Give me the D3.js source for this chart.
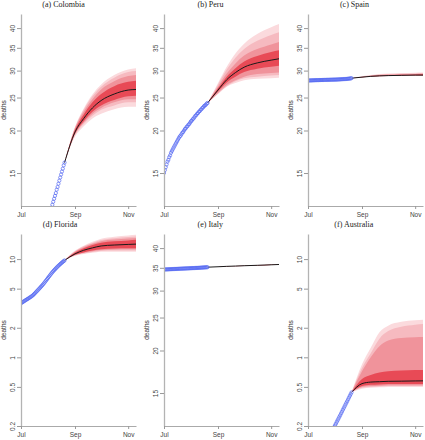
<!DOCTYPE html>
<html><head><meta charset="utf-8">
<script src="https://cdn.jsdelivr.net/npm/d3@7"></script>
<style>body{margin:0;background:#fff}</style>
</head><body>
<script>
// ---------- DATA ----------
const xTickDates = ["2020-07-01", "2020-09-01", "2020-11-01"];
const xDomain = ["2020-07-01", "2020-11-10"];
const topTicks = [15, 20, 25, 30, 35, 40];
const botTicks = [0.2, 0.5, 1, 2, 5, 10];
const fcDates = ["2020-08-20", "2020-09-01", "2020-09-11", "2020-09-21", "2020-10-01", "2020-10-16", "2020-11-01", "2020-11-10"];

// (a) Colombia
const colombiaObsStart = "2020-08-04";
const colombiaObs = [11.6, 11.85, 12.1, 12.35, 12.6, 12.85, 13.1, 13.4, 13.65, 13.95, 14.25, 14.55, 14.85, 15.15, 15.45, 15.8, 16.1];
const colombiaMed = [16.1, 19.8, 21.7, 23.3, 24.5, 25.6, 26.3, 26.4];
const colombiaHi = [
  [16.1, 20.5, 23.2, 25.5, 27.3, 29.1, 30.2, 30.5],
  [16.1, 20.4, 23.0, 25.2, 26.9, 28.6, 29.7, 29.9],
  [16.1, 20.3, 22.7, 24.7, 26.4, 27.9, 28.9, 29.1],
  [16.1, 20.1, 22.3, 24.2, 25.6, 27.0, 27.8, 28.0]];
const colombiaLo = [
  [16.1, 19.2, 20.6, 21.7, 22.4, 23.1, 23.5, 23.5],
  [16.1, 19.4, 20.9, 22.1, 23.0, 23.7, 24.2, 24.2],
  [16.1, 19.5, 21.1, 22.4, 23.3, 24.2, 24.7, 24.7],
  [16.1, 19.6, 21.3, 22.7, 23.7, 24.6, 25.2, 25.3]];

// (b) Peru
const peruObsStart = "2020-07-01";
const peruObs = [15.0, 15.3, 15.6, 15.9, 16.2, 16.4, 16.7, 16.9, 17.2, 17.4,
  17.6, 17.8, 18.0, 18.2, 18.4, 18.6, 18.8, 19.0, 19.2, 19.3,
  19.5, 19.7, 19.8, 20.0, 20.2, 20.3, 20.5, 20.6, 20.8, 20.9,
  21.1, 21.3, 21.4, 21.6, 21.7, 21.9, 22.1, 22.2, 22.4, 22.5,
  22.7, 22.8, 23.0, 23.1, 23.3, 23.4, 23.6, 23.7, 23.8, 24.0, 24.1];
const peruMed = [24.1, 26.3, 28.2, 29.6, 30.7, 31.6, 32.2, 32.5];
const peruHi = [
  [24.1, 27.6, 30.8, 33.7, 36.0, 38.4, 40.2, 41.1],
  [24.1, 27.3, 30.2, 32.7, 34.7, 36.7, 38.2, 38.9],
  [24.1, 26.9, 29.4, 31.5, 33.2, 34.7, 35.8, 36.4],
  [24.1, 26.6, 28.8, 30.5, 31.9, 33.1, 34.0, 34.4]];
const peruLo = [
  [24.1, 25.6, 26.9, 27.6, 28.1, 28.4, 28.5, 28.6],
  [24.1, 25.7, 27.0, 27.9, 28.5, 28.8, 29.0, 29.1],
  [24.1, 25.8, 27.2, 28.1, 28.8, 29.3, 29.5, 29.6],
  [24.1, 26.1, 27.7, 28.8, 29.7, 30.4, 30.8, 31.0]];

// (c) Spain
const spainObsStart = "2020-07-01";
const spainObs = [28.05, 28.06, 28.07, 28.08, 28.08, 28.09, 28.10, 28.10, 28.11, 28.12,
  28.12, 28.13, 28.13, 28.14, 28.14, 28.15, 28.15, 28.16, 28.16, 28.17,
  28.17, 28.18, 28.18, 28.19, 28.19, 28.20, 28.20, 28.21, 28.21, 28.22,
  28.22, 28.23, 28.23, 28.24, 28.25, 28.26, 28.27, 28.28, 28.29, 28.30,
  28.31, 28.32, 28.33, 28.34, 28.35, 28.37, 28.39, 28.41, 28.43, 28.46, 28.5];
const spainMed = [28.5, 28.7, 28.85, 28.95, 29.0, 29.05, 29.1, 29.1];
const spainHi = [
  [28.5, 28.85, 29.1, 29.3, 29.4, 29.5, 29.58, 29.6],
  [28.5, 28.8, 29.03, 29.2, 29.3, 29.38, 29.43, 29.45],
  [28.5, 28.77, 28.97, 29.1, 29.2, 29.27, 29.33, 29.35],
  [28.5, 28.74, 28.92, 29.03, 29.1, 29.17, 29.23, 29.25]];
const spainLo = [
  [28.5, 28.64, 28.76, 28.84, 28.9, 28.95, 29.0, 29.0],
  [28.5, 28.65, 28.78, 28.86, 28.92, 28.96, 29.0, 29.0],
  [28.5, 28.67, 28.8, 28.89, 28.95, 29.0, 29.03, 29.03],
  [28.5, 28.68, 28.82, 28.92, 28.97, 29.02, 29.06, 29.07]];

// (d) Florida
const floridaObsStart = "2020-07-01";
const floridaObs = [3.56, 3.60, 3.65, 3.70, 3.75, 3.80, 3.85, 3.90, 3.95, 4.00,
  4.06, 4.11, 4.17, 4.23, 4.31, 4.40, 4.49, 4.59, 4.69, 4.79,
  4.90, 5.01, 5.12, 5.24, 5.36, 5.48, 5.62, 5.77, 5.93, 6.09,
  6.26, 6.43, 6.61, 6.79, 6.97, 7.16, 7.35, 7.53, 7.70, 7.87,
  8.04, 8.21, 8.38, 8.55, 8.72, 8.89, 9.05, 9.21, 9.37, 9.53, 9.69];
const floridaMed = [9.69, 11.3, 12.3, 13.0, 13.6, 13.9, 14.1, 14.2];
const floridaHi = [
  [9.69, 12.2, 13.7, 15.0, 16.1, 16.9, 17.4, 17.7],
  [9.69, 12.0, 13.5, 14.6, 15.6, 16.3, 16.8, 17.0],
  [9.69, 11.9, 13.2, 14.3, 15.2, 15.8, 16.2, 16.4],
  [9.69, 11.7, 12.9, 13.9, 14.7, 15.2, 15.5, 15.7]];
const floridaLo = [
  [9.69, 10.8, 11.25, 11.6, 11.9, 11.9, 11.9, 11.9],
  [9.69, 10.9, 11.4, 11.8, 12.1, 12.2, 12.2, 12.2],
  [9.69, 11.0, 11.6, 12.0, 12.4, 12.5, 12.6, 12.6],
  [9.69, 11.07, 11.7, 12.2, 12.6, 12.8, 12.9, 12.9]];

// (e) Italy
const italyObsStart = "2020-07-01";
const italyObs = [34.60, 34.61, 34.62, 34.63, 34.64, 34.65, 34.66, 34.67, 34.68, 34.69,
  34.70, 34.71, 34.72, 34.73, 34.74, 34.75, 34.76, 34.77, 34.78, 34.79,
  34.80, 34.81, 34.82, 34.83, 34.84, 34.85, 34.86, 34.87, 34.88, 34.89,
  34.90, 34.91, 34.92, 34.93, 34.94, 34.95, 34.96, 34.97, 34.98, 34.99,
  35.00, 35.01, 35.03, 35.04, 35.06, 35.07, 35.09, 35.10, 35.12, 35.13, 35.15];
const italyMed = [35.15, 35.25, 35.35, 35.42, 35.5, 35.6, 35.72, 35.8];
const italyHi = [
  [35.15, 35.28, 35.39, 35.47, 35.56, 35.67, 35.8, 35.88],
  [35.15, 35.27, 35.38, 35.46, 35.55, 35.65, 35.78, 35.86],
  [35.15, 35.27, 35.37, 35.45, 35.54, 35.64, 35.76, 35.84],
  [35.15, 35.26, 35.36, 35.44, 35.52, 35.62, 35.74, 35.82]];
const italyLo = [
  [35.15, 35.23, 35.32, 35.38, 35.45, 35.54, 35.65, 35.73],
  [35.15, 35.23, 35.33, 35.39, 35.46, 35.55, 35.66, 35.74],
  [35.15, 35.24, 35.33, 35.4, 35.47, 35.56, 35.68, 35.76],
  [35.15, 35.24, 35.34, 35.41, 35.48, 35.58, 35.7, 35.78]];

// (f) Australia
const australiaObsStart = "2020-07-30";
const australiaObs = [0.19, 0.195, 0.203, 0.211, 0.22, 0.229, 0.238, 0.248, 0.258, 0.269,
  0.280, 0.292, 0.304, 0.317, 0.330, 0.344, 0.358, 0.373, 0.389, 0.405, 0.422, 0.44];
const australiaMed = [0.44, 0.54, 0.56, 0.565, 0.57, 0.572, 0.575, 0.576];
const australiaHi = [
  [0.44, 0.85, 1.25, 1.8, 2.1, 2.3, 2.38, 2.41],
  [0.44, 0.78, 1.1, 1.55, 1.85, 2.05, 2.15, 2.19],
  [0.44, 0.72, 1.0, 1.3, 1.48, 1.57, 1.6, 1.61],
  [0.44, 0.6, 0.66, 0.7, 0.72, 0.735, 0.742, 0.745]];
const australiaLo = [
  [0.44, 0.48, 0.49, 0.495, 0.5, 0.5, 0.5, 0.5],
  [0.44, 0.49, 0.5, 0.505, 0.51, 0.51, 0.51, 0.51],
  [0.44, 0.5, 0.51, 0.515, 0.52, 0.52, 0.52, 0.52],
  [0.44, 0.51, 0.525, 0.53, 0.535, 0.535, 0.535, 0.535]];

const titles = ["(a) Colombia", "(b) Peru", "(c) Spain", "(d) Florida", "(e) Italy", "(f) Australia"];

// ---------- LAYOUT / STYLE ----------
const parse = d3.utcParse("%Y-%m-%d");
const bandColors = ["#fbdadd", "#f6bac0", "#f0939b", "#e84a56"];
const panels = [
  {obsStart: colombiaObsStart, obs: colombiaObs, med: colombiaMed, hi: colombiaHi, lo: colombiaLo, ticks: topTicks, dom: [12, 44], col: 0, row: 0},
  {obsStart: peruObsStart, obs: peruObs, med: peruMed, hi: peruHi, lo: peruLo, ticks: topTicks, dom: [12, 44], col: 1, row: 0},
  {obsStart: spainObsStart, obs: spainObs, med: spainMed, hi: spainHi, lo: spainLo, ticks: topTicks, dom: [12, 44], col: 2, row: 0},
  {obsStart: floridaObsStart, obs: floridaObs, med: floridaMed, hi: floridaHi, lo: floridaLo, ticks: botTicks, dom: [0.2, 18], col: 0, row: 1},
  {obsStart: italyObsStart, obs: italyObs, med: italyMed, hi: italyHi, lo: italyLo, ticks: topTicks, dom: [12, 44], col: 1, row: 1},
  {obsStart: australiaObsStart, obs: australiaObs, med: australiaMed, hi: australiaHi, lo: australiaLo, ticks: botTicks, dom: [0.2, 18], col: 2, row: 1}
];
const axisXs = [21, 164, 308];
const tops = [14, 234];
const titleXs = [63.5, 210.5, 354.5, 60, 210.3, 353.8];
const PW = 115, PH = 192;

const svg = d3.select("body").append("svg").attr("width", 425).attr("height", 440)
  .style("font-family", "'Liberation Sans', Arial, sans-serif");

const fcD = fcDates.map(parse);

panels.forEach((p, i) => {
  const ax = axisXs[p.col], top = tops[p.row];
  const x = d3.scaleUtc().domain(xDomain.map(parse)).range([ax, ax + PW]);
  const y = d3.scaleLog().domain(p.dom).range([top + PH, top]);
  const g = svg.append("g");

  const cid = "clip" + i;
  svg.append("clipPath").attr("id", cid).append("rect")
    .attr("x", ax).attr("y", top).attr("width", PW + 2).attr("height", PH);
  const pg = g.append("g").attr("clip-path", `url(#${cid})`);

  // bands
  for (let k = 0; k < 4; k++) {
    const area = d3.area()
      .x((d, j) => x(fcD[j]))
      .y0((d, j) => y(p.lo[k][j]))
      .y1((d, j) => y(p.hi[k][j]))
      .curve(d3.curveMonotoneX);
    pg.append("path").datum(fcD).attr("d", area).attr("fill", bandColors[k]);
  }
  // median
  const line = d3.line().x((d, j) => x(fcD[j])).y(d => y(d)).curve(d3.curveMonotoneX);
  pg.append("path").datum(p.med).attr("d", line)
    .attr("fill", "none").attr("stroke", "#1a1a1a").attr("stroke-width", 1);
  // observed
  const start = parse(p.obsStart);
  pg.selectAll("circle").data(p.obs).join("circle")
    .attr("cx", (d, k) => x(d3.utcDay.offset(start, k)))
    .attr("cy", d => y(d))
    .attr("r", 1.6)
    .attr("fill", "none").attr("stroke", "#5569f2").attr("stroke-width", 0.7);

  // y axis
  const ya = g.append("g").attr("transform", `translate(${ax},0)`)
    .call(d3.axisLeft(y).tickValues(p.ticks).tickFormat(d3.format("~g")).tickSize(4).tickSizeOuter(0));
  ya.select(".domain").attr("stroke", "#b3b3b3").attr("stroke-width", 1.3);
  ya.selectAll(".tick line").attr("stroke", "#999");
  ya.selectAll(".tick text")
    .attr("transform", "rotate(-90)").attr("x", 0).attr("y", -6).attr("dy", 0)
    .attr("text-anchor", "middle").attr("fill", "#444")
    .style("font-size", "6.5px").style("font-family", "'Liberation Sans', Arial, sans-serif");

  // x axis
  const xa = g.append("g").attr("transform", `translate(0,${top + PH})`)
    .call(d3.axisBottom(x).tickValues(xTickDates.map(parse)).tickFormat(d3.utcFormat("%b")).tickSize(3).tickSizeOuter(0));
  xa.select(".domain").attr("stroke", "#aaa").attr("stroke-width", 1);
  xa.selectAll(".tick line").attr("stroke", "#999");
  xa.selectAll(".tick text").attr("fill", "#444")
    .style("font-size", "6.5px").style("font-family", "'Liberation Sans', Arial, sans-serif");

  // y label
  g.append("text").attr("transform", `translate(${ax - 15},${top + PH / 2}) rotate(-90)`)
    .attr("text-anchor", "middle").attr("fill", "#333").style("font-size", "6.5px")
    .text("deaths");

  // title
  g.append("text").attr("x", titleXs[i]).attr("y", top - 7)
    .attr("text-anchor", "middle").attr("fill", "#222")
    .style("font-family", "'Liberation Serif', 'Times New Roman', serif").style("font-size", "8px")
    .text(titles[i]);
});
</script>
</body></html>
